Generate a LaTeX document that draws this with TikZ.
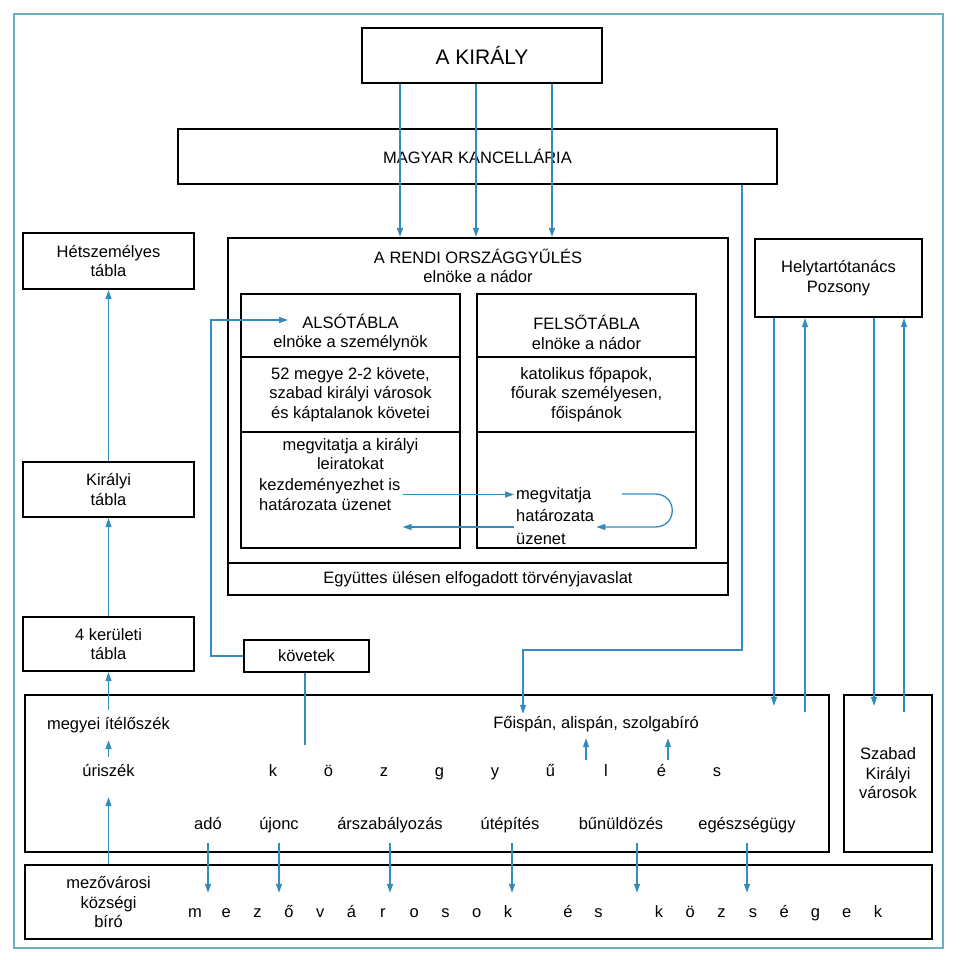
\documentclass[tikz,border=0pt]{standalone}
\usepackage{fontspec}
\setmainfont{Liberation Sans}
\usetikzlibrary{arrows.meta,calc}
\definecolor{kek}{RGB}{52,140,190}
\definecolor{keretszin}{RGB}{112,172,198}
\newcommand\alapbetu{\fontsize{16.5}{19.5}\selectfont}
\tikzset{
doboz/.style={shape=rectangle,draw,line width=2.2pt,inner sep=0pt,align=center,font=\alapbetu},
szoveg/.style={inner sep=2pt,align=center,font=\alapbetu},
cimke/.style={inner sep=2pt,text height=12pt,text depth=4pt,font=\alapbetu},
nyil/.style={draw=kek,line width=1.3pt,-{Triangle[length=9pt,width=6pt]}},
vonal/.style={draw=kek,line width=1.3pt},
keret/.style={draw=keretszin,line width=2.5pt}
}
\begin{document}
\begin{tikzpicture}[x=1pt,y=-1pt]
\fill[white] (0,0) rectangle (960,960);
\useasboundingbox (0,0) rectangle (960,960);
\draw[keret] (14,14) rectangle (943,948);
\node[doboz,minimum width=240pt,minimum height=55pt,font=\fontsize{21}{24}\selectfont](kiraly) at (482,55.5){A KIRÁLY};
\node[doboz,minimum width=599pt,minimum height=55pt](kanc) at (477.5,156.5){MAGYAR KANCELLÁRIA};
\node[doboz,minimum width=500pt,minimum height=357pt](rendi) at (478,416.5){};
\node[szoveg](rendicim) at (478,266){A RENDI ORSZÁGGYŰLÉS\\elnöke a nádor};
\node[doboz,minimum width=219pt,minimum height=63pt](alsofej) at (350.5,325.5){};
\node[szoveg](alsocim) at (350.5,332.5){ALSÓTÁBLA\\elnöke a személynök};
\node[doboz,minimum width=219pt,minimum height=75pt](alsokozep) at (350.5,394.5){52 megye 2-2 követe,\\szabad királyi városok\\és káptalanok követei};
\node[doboz,minimum width=219pt,minimum height=116pt](alsoalj) at (350.5,490){};
\node[szoveg](leirat) at (350.5,454){megvitatja a királyi\\leiratokat};
\node[szoveg,align=left,anchor=west](kezdem) at (257,494.5){kezdeményezhet is\\határozata üzenet};
\node[doboz,minimum width=219pt,minimum height=63pt](felsofej) at (586.5,325.5){};
\node[szoveg](felsocim) at (586.5,332.5){FELSŐTÁBLA\\elnöke a nádor};
\node[doboz,minimum width=219pt,minimum height=75pt](felsokozep) at (586.5,394.5){katolikus főpapok,\\főurak személyesen,\\főispánok};
\node[doboz,minimum width=219pt,minimum height=116pt](felsoalj) at (586.5,490){};
\node[szoveg,align=left,anchor=west,font=\fontsize{16.5}{22.5}\selectfont](megvit) at (514,516){megvitatja\\határozata\\üzenet};
\node[doboz,minimum width=500pt,minimum height=32pt](egyutt) at (478,579){Együttes ülésen elfogadott törvényjavaslat};
\node[doboz,minimum width=171pt,minimum height=56pt](het) at (108.5,261){Hétszemélyes\\tábla};
\node[doboz,minimum width=171pt,minimum height=55pt](kiralyi) at (108.5,489.5){Királyi\\tábla};
\node[doboz,minimum width=171pt,minimum height=54pt](kerul) at (108.5,644){4 kerületi\\tábla};
\node[doboz,minimum width=125pt,minimum height=32pt](kovetek) at (306.5,656){követek};
\node[doboz,minimum width=167pt,minimum height=78pt](helyt) at (838.5,278){Helytartótanács\\Pozsony};
\node[doboz,minimum width=804pt,minimum height=157pt](megye) at (427,773.5){};
\node[doboz,minimum width=88pt,minimum height=157pt](szabad) at (888,773.5){Szabad\\Királyi\\városok};
\node[doboz,minimum width=907pt,minimum height=74pt](mezo) at (478.5,902){};
\node[szoveg](mezocim) at (108.5,902){mezővárosi\\községi\\bíró};
\node[cimke](itelo) at (108.5,725){megyei ítélőszék};
\node[cimke](uri) at (108.5,772){úriszék};
\node[cimke](foispan) at (596,724){Főispán, alispán, szolgabíró};
\foreach \bt [count=\i] in {k,ö,z,g,y,ű,l,é,s}
\node[cimke](kozgy\i) at ({273+55.5*(\i-1)},772){\bt};
\foreach \x/\szo [count=\i] in {208/adó,279/újonc,390/árszabályozás,510/útépítés,621/bűnüldözés,747/egészségügy}
\node[cimke](feladat\i) at (\x,825){\szo};
\foreach \bt [count=\i] in {m,e,z,ő,v,á,r,o,s,o,k}
\node[cimke](mv\i) at ({195+31.3*(\i-1)},913){\bt};
\foreach \bt [count=\i] in {é,s}
\node[cimke](es\i) at ({568+30.5*(\i-1)},913){\bt};
\foreach \bt [count=\i] in {k,ö,z,s,é,g,e,k}
\node[cimke](kg\i) at ({659+31.3*(\i-1)},913){\bt};
\foreach \x in {400,476,552}
\draw[nyil] (\x,0 |- kiraly.south) -- (\x,0 |- rendi.north);
\draw[nyil] (742,0 |- kanc.south) |- (523,650) -- (523,0 |- foispan.north);
\coordinate (alsobe) at (288,320);
\draw[nyil] (kovetek.west) -- ++(-32,0) |- (alsobe);
\coordinate (kovveg) at (305,745);
\draw[vonal] (kovetek.south -| kovveg) -- (kovveg);
\draw[nyil] (kezdem.east) -- (kezdem.east -| megvit.west);
\draw[nyil] (megvit.west |- 0,527) -- (kezdem.east |- 0,527);
\draw[nyil] (622,494) -- (655,494) .. controls (678,494) and (678,527) .. (655,527) -- (megvit.east |- 0,527);
\draw[nyil] (kerul.north) -- (kiralyi.south);
\draw[nyil] (kiralyi.north) -- (het.south);
\draw[nyil,shorten <=5pt] (itelo.north) -- (kerul.south);
\draw[nyil,shorten <=5pt,shorten >=5pt] (uri.north) -- (itelo.south);
\draw[nyil,shorten >=15pt] (mezo.north -| uri) -- (uri.south);
\foreach \x in {586,668}
\draw[nyil,shorten <=2pt,shorten >=4pt] (\x,0 |- kozgy1.north) -- (\x,0 |- foispan.south);
\foreach \x/\i in {208/1,279/2,390/3,512/4,637/5,747/6}
\draw[nyil,shorten <=8pt,shorten >=10pt] (\x,0 |- feladat\i.south) -- (\x,0 |- mv1.north);
\draw[nyil] (774,0 |- helyt.south) -- ($(774,0 |- megye.north)+(0,12)$);
\draw[nyil] ($(805,0 |- megye.north)+(0,18)$) -- (805,0 |- helyt.south);
\draw[nyil] (874,0 |- helyt.south) -- ($(874,0 |- szabad.north)+(0,12)$);
\draw[nyil] ($(904,0 |- szabad.north)+(0,18)$) -- (904,0 |- helyt.south);
\end{tikzpicture}
\end{document}
